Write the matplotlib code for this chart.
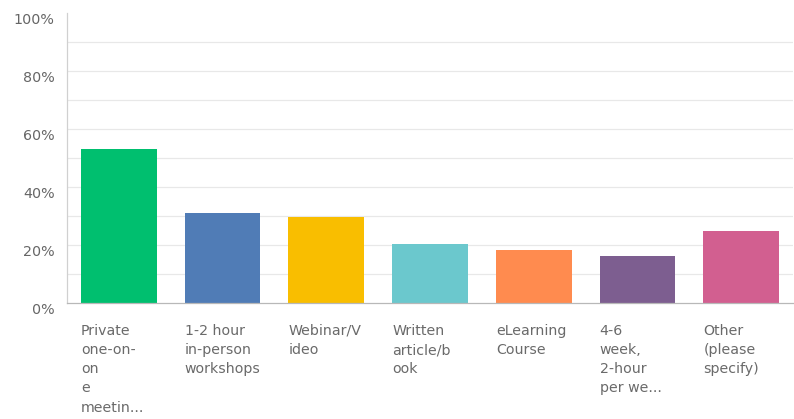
import numpy as np
import matplotlib.pyplot as plt
from matplotlib import transforms

# Survey answer choices (labels wrapped as in the original chart)
labels = [
    "Private\none-on-\non\ne\nmeetin...",
    "1-2 hour\nin-person\nworkshops",
    "Webinar/V\nideo",
    "Written\narticle/b\nook",
    "eLearning\nCourse",
    "4-6\nweek,\n2-hour\nper we...",
    "Other\n(please\nspecify)",
]
percents = [53.1, 31.2, 29.8, 20.3, 18.3, 16.2, 24.8]
colors = ["#00BF6F", "#507CB6", "#F9BE00", "#6BC8CD", "#FF8B4F", "#7D5E90", "#D25F90"]
yticks = [0, 20, 40, 60, 80, 100]
ytick_labels = ["0%", "20%", "40%", "60%", "80%", "100%"]

plt.rcParams['font.family'] = ['DejaVu Sans']

fig = plt.figure(figsize=(7.94, 4.19), dpi=100)
ax = fig.add_axes([67 / 794, 1 - 303 / 419, 726 / 794, 290 / 419])

bar_width = 0.73
x = np.arange(len(labels))

# light gridlines every 10%
for g in range(10, 100, 10):
    ax.axhline(g, color="#e8e8e8", lw=0.9, zorder=0)

ax.bar(x, percents, width=bar_width, color=colors, zorder=2)

ax.set_xlim(-0.5, len(labels) - 0.5)
ax.set_ylim(0, 100)
ax.set_xticks([])
ax.set_yticks(yticks)
ax.set_yticklabels(ytick_labels, color="#666666", fontsize=10.3)
ax.tick_params(axis="y", length=0, pad=9)
for lbl in ax.get_yticklabels():
    lbl.set_va("top")

for side in ["top", "right"]:
    ax.spines[side].set_visible(False)
ax.spines["left"].set_color("#d0d0d0")
ax.spines["left"].set_linewidth(0.9)
ax.spines["bottom"].set_color("#b8b8b8")
ax.spines["bottom"].set_linewidth(0.9)

# category labels, left aligned under each bar
trans = transforms.blended_transform_factory(ax.transData, ax.transAxes)
for i, lab in enumerate(labels):
    ax.text(i - bar_width / 2, -0.072, lab, transform=trans, ha="left", va="top",
            fontsize=10.2, color="#6a6a6a", linespacing=1.47)

fig.savefig("out.png", dpi=100)
